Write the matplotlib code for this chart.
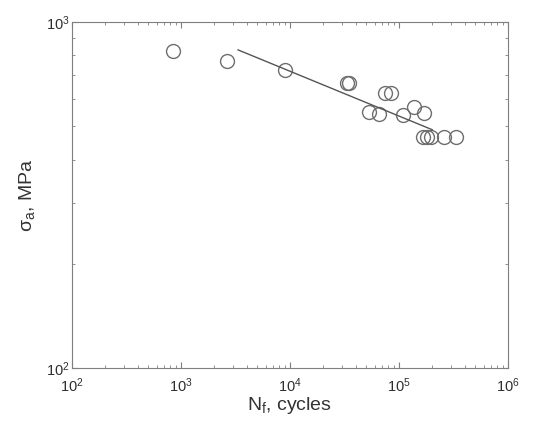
import numpy as np
import matplotlib
matplotlib.use("Agg")
from matplotlib import pyplot as plt
from matplotlib.ticker import LogLocator, FixedLocator, NullFormatter

plt.rcParams["font.family"] = ["Liberation Sans", "DejaVu Sans"]
plt.rcParams["mathtext.fontset"] = "custom"
plt.rcParams["mathtext.rm"] = "Liberation Sans"
plt.rcParams["mathtext.it"] = "Liberation Sans"

# fatigue data: cycles to failure vs stress amplitude
cycles = [845, 2650, 9040, 33500, 34500, 74800, 84900, 53300, 65900,
          109000, 138000, 171000, 167000, 182000, 198000, 261000, 336000]
stress = [825, 771, 726, 667, 667, 624, 624, 550, 542,
          538, 568, 546, 466, 466, 466, 466, 466]

# Basquin fit line endpoints
fit_cycles = [3340, 202000]
fit_stress = [830, 488]

grey = "#7f7f7f"

fig = plt.figure(figsize=(5.47, 4.21), dpi=100)
ax = fig.add_axes([0.1316, 0.126, 0.797, 0.822])

ax.plot(cycles, stress, "o", mfc="none", mec="#6e6e6e", ms=10, mew=1.0)
ax.plot(fit_cycles, fit_stress, "-", color="#555555", lw=1.0)

ax.set_xscale("log")
ax.set_yscale("log")
ax.set_xlim(1e2, 1e6)
ax.set_ylim(1e2, 1e3)

ax.xaxis.set_major_locator(FixedLocator([1e2, 1e3, 1e4, 1e5, 1e6]))
ax.yaxis.set_major_locator(FixedLocator([1e2, 1e3]))
ax.xaxis.set_minor_locator(LogLocator(base=10, subs=np.arange(2, 10)))
ax.yaxis.set_minor_locator(LogLocator(base=10, subs=np.arange(2, 10)))
ax.xaxis.set_minor_formatter(NullFormatter())
ax.yaxis.set_minor_formatter(NullFormatter())
ax.set_xticklabels([r"$10^2$", r"$10^3$", r"$10^4$", r"$10^5$", r"$10^6$"])
ax.set_yticklabels([r"$10^2$", r"$10^3$"])

ax.tick_params(which="both", direction="in", top=True, right=True,
               color=grey, labelsize=10.5, labelcolor="#2e2e2e")
ax.tick_params(which="major", length=4)
ax.tick_params(which="minor", length=2)
ax.tick_params(axis="x", pad=6)
ax.tick_params(axis="y", pad=2)
for s in ax.spines.values():
    s.set_color(grey)

ax.set_xlabel(r"N$_f$, cycles", fontsize=14, color="#333333", labelpad=0)
ax.set_ylabel(r"σ$_a$, MPa", fontsize=14, color="#333333", labelpad=6)

fig.savefig("out.png", dpi=100)
